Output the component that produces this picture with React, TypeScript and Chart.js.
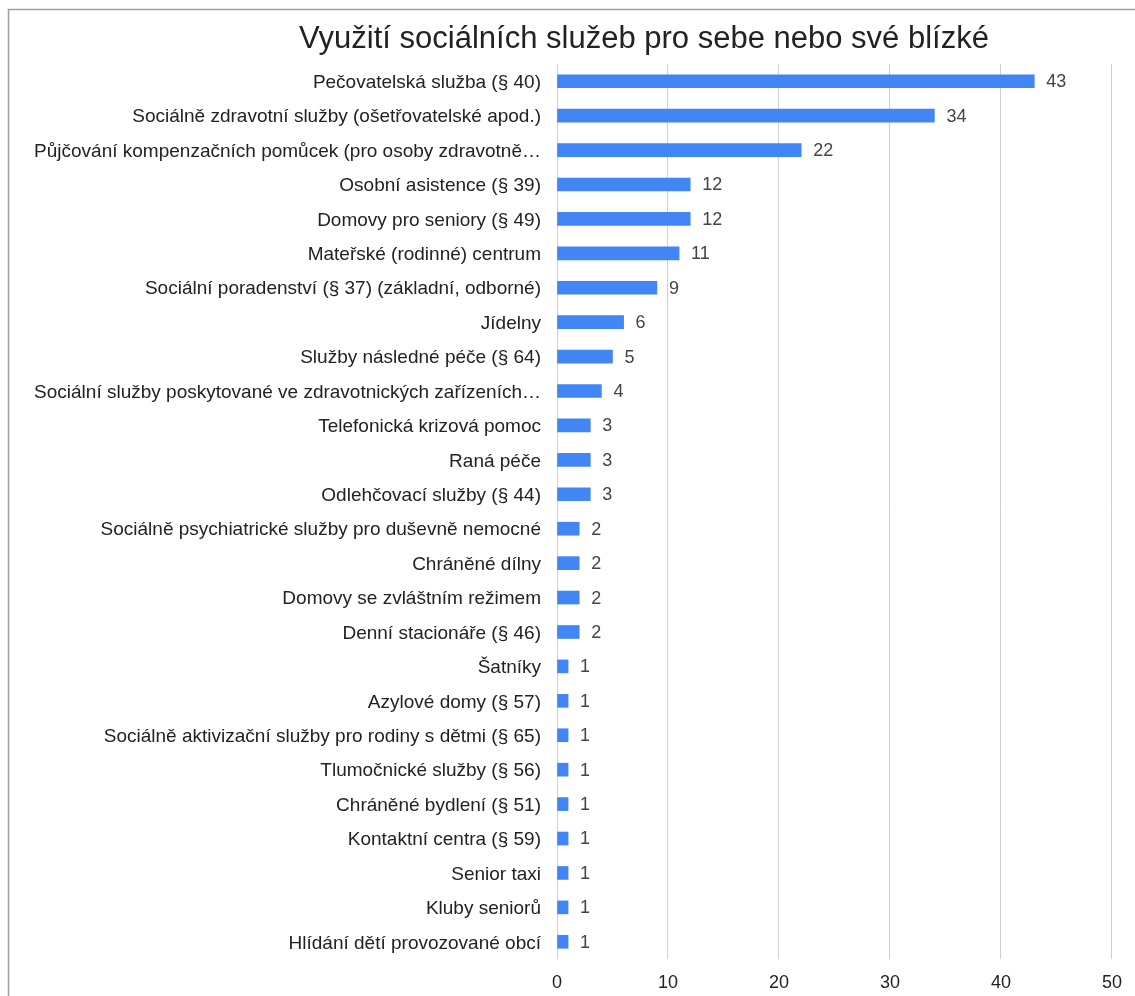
import React, { useEffect, useRef } from "react";
import { Chart, registerables } from "chart.js";

Chart.register(...registerables);

const TITLE = "Využití sociálních služeb pro sebe nebo své blízké";

const categories: string[] = [
  "Pečovatelská služba (§ 40)",
  "Sociálně zdravotní služby (ošetřovatelské apod.)",
  "Půjčování kompenzačních pomůcek (pro osoby zdravotně…",
  "Osobní asistence (§ 39)",
  "Domovy pro seniory (§ 49)",
  "Mateřské (rodinné) centrum",
  "Sociální poradenství (§ 37) (základní, odborné)",
  "Jídelny",
  "Služby následné péče (§ 64)",
  "Sociální služby poskytované ve zdravotnických zařízeních…",
  "Telefonická krizová pomoc",
  "Raná péče",
  "Odlehčovací služby (§ 44)",
  "Sociálně psychiatrické služby pro duševně nemocné",
  "Chráněné dílny",
  "Domovy se zvláštním režimem",
  "Denní stacionáře (§ 46)",
  "Šatníky",
  "Azylové domy (§ 57)",
  "Sociálně aktivizační služby pro rodiny s dětmi (§ 65)",
  "Tlumočnické služby (§ 56)",
  "Chráněné bydlení (§ 51)",
  "Kontaktní centra (§ 59)",
  "Senior taxi",
  "Kluby seniorů",
  "Hlídání dětí provozované obcí",
];

const values: number[] = [
  43, 34, 22, 12, 12, 11, 9, 6, 5, 4, 3, 3, 3, 2, 2, 2, 2, 1, 1, 1, 1, 1, 1, 1, 1, 1,
];

const xTicks: number[] = [0, 10, 20, 30, 40, 50];

const FONT = "'Liberation Sans', Arial, sans-serif";

export default function App() {
  const ref = useRef<HTMLCanvasElement | null>(null);

  useEffect(() => {
    document.body.style.margin = "0";
    const canvas = ref.current;
    if (!canvas) return;

    const framePlugin = {
      id: "frame",
      beforeDraw(chart: any) {
        const ctx = chart.ctx;
        ctx.save();
        ctx.fillStyle = "#ffffff";
        ctx.fillRect(0, 0, chart.width, chart.height);
        ctx.strokeStyle = "#9e9e9e";
        ctx.lineWidth = 1.5;
        ctx.beginPath();
        ctx.moveTo(8.5, chart.height);
        ctx.lineTo(8.5, 9.5);
        ctx.lineTo(chart.width, 9.5);
        ctx.stroke();
        ctx.fillStyle = "#222222";
        ctx.font = `31px ${FONT}`;
        ctx.textAlign = "center";
        ctx.textBaseline = "middle";
        ctx.fillText(TITLE, 644, 39);
        ctx.restore();
      },
    };

    const valueLabels = {
      id: "valueLabels",
      afterDatasetsDraw(chart: any) {
        const ctx = chart.ctx;
        const meta = chart.getDatasetMeta(0);
        ctx.save();
        ctx.fillStyle = "#444444";
        ctx.font = `18px ${FONT}`;
        ctx.textAlign = "left";
        ctx.textBaseline = "middle";
        meta.data.forEach((bar: any, i: number) => {
          ctx.fillText(String(values[i]), bar.x + 12, bar.y + 1);
        });
        ctx.restore();
      },
    };

    const chart = new Chart(canvas, {
      type: "bar",
      data: {
        labels: categories,
        datasets: [
          {
            data: values,
            backgroundColor: "#4285F4",
            borderWidth: 0,
            barThickness: 13,
          },
        ],
      },
      options: {
        indexAxis: "y",
        responsive: false,
        animation: false,
        layout: { padding: { top: 64, right: 20, bottom: 0, left: 0 } },
        plugins: {
          legend: { display: false },
          title: { display: false },
          tooltip: { enabled: false },
        },
        scales: {
          x: {
            min: 0,
            max: 50,
            afterBuildTicks(scale: any) {
              scale.ticks = xTicks.map((v) => ({ value: v }));
            },
            afterFit(scale: any) {
              scale.height = 37;
            },
            grid: { color: "#d0d0d0", drawTicks: false },
            border: { display: false },
            ticks: {
              color: "#222222",
              font: { family: FONT, size: 18 },
              padding: 13,
            },
          },
          y: {
            afterFit(scale: any) {
              scale.width = 557;
            },
            grid: { display: false, drawTicks: false },
            border: { display: false },
            ticks: {
              color: "#222222",
              font: { family: FONT, size: 19 },
              padding: 16,
              labelOffset: 1.5,
              autoSkip: false,
            },
          },
        },
      },
      plugins: [framePlugin, valueLabels],
    });

    return () => chart.destroy();
  }, []);

  return (
    <div style={{ width: 1135, height: 996 }}>
      <canvas ref={ref} width={1135} height={996} style={{ display: "block" }} />
    </div>
  );
}
